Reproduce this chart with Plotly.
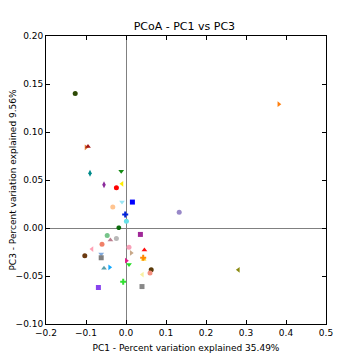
import plotly.graph_objects as go

# PC1 / PC3 coordinates per sample
pc1 = [-0.127, 0.382, -0.100, -0.095, -0.090, -0.012, -0.055, -0.024, -0.010, -0.010,
       -0.033, 0.016, -0.002, 0.001, -0.018, -0.047, -0.039, -0.024, -0.060, -0.085,
       -0.103, -0.062, -0.062, -0.055, -0.041, 0.0075, 0.013, 0.036, 0.046, 0.044,
       0.043, 0.0008, 0.0075, -0.007, -0.069, 0.040, 0.041, 0.063, 0.060, 0.281, 0.133]
pc3 = [0.140, 0.129, 0.084, 0.085, 0.057, 0.059, 0.045, 0.042, 0.046, 0.027,
       0.022, 0.027, 0.014, 0.007, 0.0003, -0.0077, -0.0125, -0.011, -0.017, -0.022,
       -0.029, -0.027, -0.031, -0.042, -0.041, -0.020, -0.026, -0.0067, -0.023, -0.0325,
       -0.031, -0.034, -0.038, -0.056, -0.062, -0.061, -0.0485, -0.0436, -0.047, -0.0436, 0.0163]

colors = ["#2e4a05", "#ff7f0e", "#e07a30", "#a31515", "#008b8b", "#138a13", "#8b2a9b", "#ff0000",
          "#ffee00", "#9ae6f5", "#ffc490", "#0000ff", "#0022dd", "#66e0e8", "#0a6a0a", "#77c48a",
          "#bc7f8f", "#b8b8b8", "#f08068", "#ffa0b4", "#6b3a10", "#80aadd", "#808080", "#5a9ea8",
          "#10a8ff", "#f8a0b8", "#c8a888", "#a02898", "#ff1010", "#ffd000", "#ff8800", "#e0188a",
          "#20dd20", "#30e030", "#8844ee", "#888888", "#f8f0a0", "#5a3a08", "#f49080", "#8a8a10", "#9888c8"]
symbols = ["circle", "triangle-right", "triangle-right", "triangle-up", "diamond-tall", "triangle-down",
           "diamond-tall", "circle", "triangle-left", "triangle-down", "circle", "square", "cross",
           "circle", "octagon", "circle", "triangle-up", "circle", "circle", "triangle-left",
           "circle", "triangle-down", "square", "triangle-up", "triangle-right", "circle",
           "triangle-right", "square", "triangle-up", "triangle-up", "cross", "triangle-right",
           "triangle-down", "cross", "square", "square", "triangle-left", "circle", "circle",
           "triangle-left", "circle"]

fig = go.Figure()
fig.add_trace(go.Scatter(x=pc1, y=pc3, mode="markers",
                         marker=dict(color=colors, symbol=symbols, size=5, line=dict(width=0)),
                         showlegend=False))

axis_common = dict(showgrid=False, showline=True, linecolor="black", linewidth=1,
                   mirror="allticks", ticks="inside", ticklen=4, tickcolor="black",
                   zeroline=True, zerolinecolor="#808080", zerolinewidth=1, automargin=False,
                   tickfont=dict(family="DejaVu Sans", size=9, color="black"))

fig.update_layout(
    width=360, height=360,
    margin=dict(l=38, r=42, t=28, b=44),
    plot_bgcolor="white", paper_bgcolor="white",
    title=dict(text="PCoA - PC1 vs PC3", x=0.49, xanchor="center", y=0.95, yanchor="middle",
               font=dict(family="DejaVu Sans", size=11, color="black")),
    xaxis=dict(range=[-0.2, 0.5], dtick=0.1, tickformat=".1f",
               title=dict(text="PC1 - Percent variation explained 35.49%", standoff=7,
                          font=dict(family="DejaVu Sans", size=9, color="black")),
               **axis_common),
    yaxis=dict(range=[-0.1, 0.2], dtick=0.05, tickformat=".2f",
               title=dict(text="PC3 - Percent variation explained 9.56%", standoff=12,
                          font=dict(family="DejaVu Sans", size=9, color="black")),
               **axis_common),
)

fig.write_html("out.html")
